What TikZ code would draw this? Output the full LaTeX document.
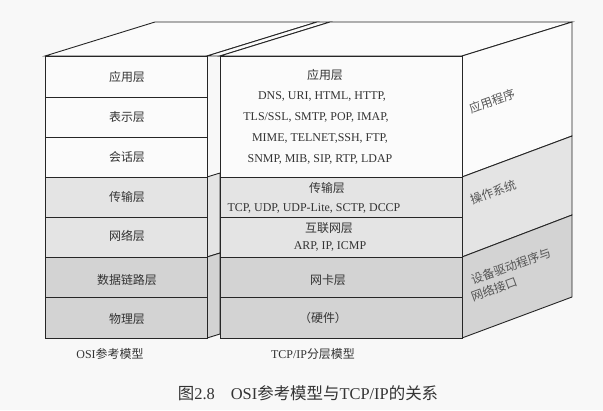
\documentclass[tikz,border=0pt]{standalone}
\usepackage{fontspec}
\setmainfont{Liberation Serif}
\newfontfamily\cjk{Noto Sans CJK SC}
\newcommand\zh[1]{{\cjk #1}}
\definecolor{bgc}{HTML}{F8F8F8}
\definecolor{cw}{HTML}{FBFBFB}
\definecolor{cl}{HTML}{E4E4E4}
\definecolor{cd}{HTML}{D3D3D3}
\definecolor{lnc}{HTML}{262626}
\definecolor{txc}{HTML}{333333}
\definecolor{sidetx}{HTML}{555555}
\tikzset{
  face/.style={draw=lnc, line width=0.9bp, line join=miter},
  lab/.style={inner sep=0pt, text=txc, font=\fontsize{12}{14}\selectfont},
  side/.style={inner sep=0pt, text=sidetx, font=\fontsize{12}{15}\selectfont\cjk, rotate=20},
  capt/.style={inner sep=0pt, text=txc, font=\fontsize{16.5}{18}\selectfont},
}
\begin{document}
\begin{tikzpicture}[x=1bp,y=-1bp]
\useasboundingbox (0,0) rectangle (603,410);
\fill[bgc] (0,0) rectangle (603,410);
% left box top face
\filldraw[face, fill=cw] (45,56) -- (155,22) -- (317,22) -- (207,56) -- cycle;
% sliver between boxes (left box right face)
\filldraw[face, fill=cw] (207,56) -- (317,22) -- (330,22) -- (220,56) -- cycle;
\filldraw[face, fill=cl] (207,177) -- (220,173) -- (220,253) -- (207,257) -- cycle;
\filldraw[face, fill=cd] (207,257) -- (220,253) -- (220,334) -- (207,338) -- cycle;
% right box top face
\filldraw[face, fill=cw] (220,56) -- (330,22) -- (572,22) -- (462,56) -- cycle;
% right box side face
\filldraw[face, fill=cw] (462,56) -- (572,22) -- (572,136) -- (462,177) -- cycle;
\filldraw[face, fill=cl] (462,177) -- (572,136) -- (572,215) -- (462,257) -- cycle;
\filldraw[face, fill=cd] (462,257) -- (572,215) -- (572,297) -- (462,338) -- cycle;
% right box front
\filldraw[face, fill=cw] (220,56) rectangle (462,177);
\filldraw[face, fill=cl] (220,177) rectangle (462,217);
\filldraw[face, fill=cl] (220,217) rectangle (462,257);
\filldraw[face, fill=cd] (220,257) rectangle (462,297);
\filldraw[face, fill=cd] (220,297) rectangle (462,338);
% left box front
\filldraw[face, fill=cw] (45,56) rectangle (207,97);
\filldraw[face, fill=cw] (45,97) rectangle (207,137);
\filldraw[face, fill=cw] (45,137) rectangle (207,177);
\filldraw[face, fill=cl] (45,177) rectangle (207,217);
\filldraw[face, fill=cl] (45,217) rectangle (207,257);
\filldraw[face, fill=cd] (45,257) rectangle (207,297);
\filldraw[face, fill=cd] (45,297) rectangle (207,338);
% left labels
\node[lab] (l1) at (127,77) {\zh{应用层}};
\node[lab] (l2) at (127,117) {\zh{表示层}};
\node[lab] (l3) at (127,157) {\zh{会话层}};
\node[lab] (l4) at (127,197) {\zh{传输层}};
\node[lab] (l5) at (127,236) {\zh{网络层}};
\node[lab] (l6) at (127,280) {\zh{数据链路层}};
\node[lab] (l7) at (127,319) {\zh{物理层}};
% right labels
\node[lab] (r1) at (325,75) {\zh{应用层}};
\node[lab] (r1a) at (322,96) {DNS, URI, HTML, HTTP,};
\node[lab] (r1b) at (316,117) {TLS/SSL, SMTP, POP, IMAP,};
\node[lab] (r1c) at (320,138) {MIME, TELNET,SSH, FTP,};
\node[lab] (r1d) at (320,159) {SNMP, MIB, SIP, RTP, LDAP};
\node[lab] (r2) at (327,188) {\zh{传输层}};
\node[lab] (r2a) at (314,208) {TCP, UDP, UDP-Lite, SCTP, DCCP};
\node[lab] (r3) at (329,228) {\zh{互联网层}};
\node[lab] (r3a) at (330,246) {ARP, IP, ICMP};
\node[lab] (r4) at (328,280) {\zh{网卡层}};
\node[lab] (r5) at (323,318) {\zh{（硬件）}};
% side labels
\node[side] (s1) at (492,101) {应用程序};
\node[side] (s2) at (493,192) {操作系统};
\node[side, anchor=base west] (s3) at (473,285) {设备驱动程序与};
\node[side, anchor=base west] (s4) at (473,302) {网络接口};
% bottom labels
\node[lab] (b1) at (110,354) {OSI\zh{参考模型}};
\node[lab] (b2) at (313,354) {TCP/IP\zh{分层模型}};
\node[capt] (cap) at (308,393) {\zh{图}2.8\hspace{16bp}OSI\zh{参考模型与}TCP/IP\zh{的关系}};
\end{tikzpicture}
\end{document}
